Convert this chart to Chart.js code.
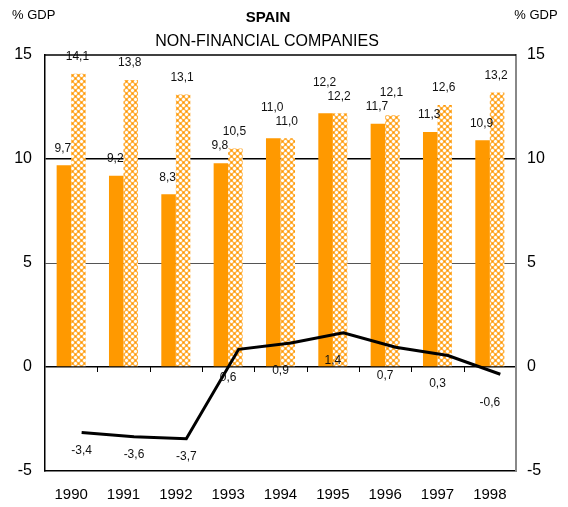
<!DOCTYPE html>
<html>
<head>
<meta charset="utf-8">
<script src="https://cdn.jsdelivr.net/npm/chart.js@4.4.3/dist/chart.umd.min.js"></script>
<style>
  html, body { margin: 0; padding: 0; background: #fff; }
  #wrap { width: 568px; height: 507px; }
</style>
</head>
<body>
<div id="wrap"><canvas id="chart" width="568" height="507"></canvas></div>
<script>
const years = ['1990', '1991', '1992', '1993', '1994', '1995', '1996', '1997', '1998'];
const solidValues = [9.7, 9.2, 8.3, 9.8, 11.0, 12.2, 11.7, 11.3, 10.9];
const hatchedValues = [14.1, 13.8, 13.1, 10.5, 11.0, 12.2, 12.1, 12.6, 13.2];
const lineValues = [-3.4, -3.6, -3.7, 0.6, 0.9, 1.4, 0.7, 0.3, -0.6];
const yTicks = [-5, 0, 5, 10, 15];

const FONT = "'Liberation Sans', Arial, Helvetica, sans-serif";
const ORANGE = '#FF9900';

function fmt(v) {
  return v.toFixed(1).replace('.', ',');
}

// small checker of white crosses on orange, like the Excel fill
function makePattern() {
  const c = document.createElement('canvas');
  c.width = 6;
  c.height = 6;
  const g = c.getContext('2d');
  g.fillStyle = '#FFB040';
  g.fillRect(0, 0, 6, 6);
  g.fillStyle = '#FF9900';
  g.fillRect(0, 3, 1, 1);
  g.fillRect(3, 0, 1, 1);
  g.fillStyle = '#FFFFFF';
  [[3, 3], [2, 3], [4, 3], [3, 2], [3, 4], [0, 0], [1, 0], [5, 0], [0, 1], [0, 5]].forEach(([x, y]) => g.fillRect(x, y, 1, 1));
  g.fillStyle = '#FFE0B0';
  [[2, 2], [4, 4], [2, 4], [4, 2], [1, 1], [5, 5], [1, 5], [5, 1]].forEach(([x, y]) => g.fillRect(x, y, 1, 1));
  return g.createPattern(c, 'repeat');
}

const lineShift = 0.2; // line sits a little right of the category centre

const framePlugin = {
  id: 'frame',
  beforeDatasetsDraw(chart) {
    const { ctx, chartArea, scales } = chart;
    const zeroY = scales.y.getPixelForValue(0);
    const step = chartArea.width / years.length;
    ctx.save();
    ctx.strokeStyle = '#000';
    ctx.lineWidth = 1;
    for (let i = 1; i < years.length; i++) {
      const x = Math.round(chartArea.left + step * i) + 0.5;
      ctx.beginPath();
      ctx.moveTo(x, zeroY);
      ctx.lineTo(x, zeroY + 5);
      ctx.stroke();
    }
    ctx.restore();
  },
  beforeDatasetDraw(chart, args) {
    if (args.index !== 2) return;
    const step = chart.chartArea.width / years.length;
    chart.ctx.save();
    chart.ctx.translate(step * lineShift, 0);
  },
  afterDatasetDraw(chart, args) {
    if (args.index !== 2) return;
    chart.ctx.restore();
  },
  afterDatasetsDraw(chart) {
    const { ctx, chartArea } = chart;
    const step = chartArea.width / years.length;
    ctx.save();
    ctx.fillStyle = '#111';
    ctx.font = '12px ' + FONT;
    ctx.textAlign = 'center';
    ctx.textBaseline = 'middle';
    const solid = chart.getDatasetMeta(0).data;
    const hatched = chart.getDatasetMeta(1).data;
    solid.forEach((s, i) => {
      const h = hatched[i];
      let ys = s.y - 17;
      let yh = h.y - 17;
      if (Math.abs(ys - yh) < 13) {
        if (hatchedValues[i] > solidValues[i]) yh = ys - 14;
        else ys = Math.min(ys, yh) - 14;
      }
      ctx.fillText(fmt(solidValues[i]), s.x - 1, ys);
      ctx.fillText(fmt(hatchedValues[i]), h.x - 1, yh);
    });
    chart.getDatasetMeta(2).data.forEach((p, i) => {
      const v = lineValues[i];
      const dx = v < -2 ? step * lineShift : 0;
      const dy = v < -2 ? 18 : 28;
      ctx.fillText(fmt(v), p.x + dx, p.y + dy);
    });
    ctx.restore();
  },
  afterDraw(chart) {
    const { ctx, chartArea } = chart;
    ctx.save();
    ctx.strokeStyle = '#000';
    ctx.lineWidth = 1.5;
    ctx.beginPath();
    ctx.moveTo(chartArea.left, chartArea.top);
    ctx.lineTo(chartArea.right, chartArea.top);
    ctx.stroke();

    ctx.fillStyle = '#000';
    ctx.textBaseline = 'middle';
    ctx.font = '13px ' + FONT;
    ctx.textAlign = 'left';
    ctx.fillText('% GDP', 12, 15);
    ctx.textAlign = 'center';
    ctx.fillText('% GDP', 536, 15);
    ctx.font = 'bold 15px ' + FONT;
    ctx.fillText('SPAIN', 268, 18);
    ctx.font = '16px ' + FONT;
    ctx.fillText('NON-FINANCIAL COMPANIES', 267, 42);
    ctx.restore();
  }
};

const yTickSetup = (scale) => {
  scale.ticks = yTicks.map((v) => ({ value: v }));
};

new Chart(document.getElementById('chart').getContext('2d'), {
  data: {
    labels: years,
    datasets: [
      {
        type: 'bar',
        data: solidValues,
        backgroundColor: ORANGE,
        borderWidth: 0,
        categoryPercentage: 0.555,
        barPercentage: 1.0,
        order: 1,
        yAxisID: 'y'
      },
      {
        type: 'bar',
        data: hatchedValues,
        backgroundColor: makePattern(),
        borderWidth: 0,
        categoryPercentage: 0.555,
        barPercentage: 1.0,
        order: 1,
        yAxisID: 'y'
      },
      {
        type: 'line',
        data: lineValues,
        borderColor: '#000',
        borderWidth: 3,
        pointRadius: 0,
        tension: 0,
        fill: false,
        clip: false,
        order: 0,
        yAxisID: 'yLine'
      }
    ]
  },
  options: {
    responsive: false,
    devicePixelRatio: 1,
    animation: false,
    layout: { padding: { top: 55, left: 0, right: 0, bottom: 0 } },
    plugins: {
      legend: { display: false },
      tooltip: { enabled: false },
      title: { display: false }
    },
    scales: {
      x: {
        grid: { display: false, drawTicks: false },
        border: { color: '#000', width: 1.5 },
        ticks: { color: '#000', font: { family: FONT, size: 15 }, padding: 15, maxRotation: 0 },
        afterFit: (s) => { s.height = 36; }
      },
      y: {
        position: 'left',
        min: -5,
        max: 15,
        afterBuildTicks: yTickSetup,
        ticks: { color: '#000', font: { family: FONT, size: 16 }, padding: 13 },
        grid: {
          drawTicks: false,
          color: (c) => {
            const v = c.tick && c.tick.value;
            if (v === 10 || v === 0) return '#000';
            if (v === 5) return '#555';
            return 'rgba(0,0,0,0)';
          },
          lineWidth: (c) => (c.tick && c.tick.value === 5 ? 1 : 1.5)
        },
        border: { color: '#000', width: 1.5 },
        afterFit: (s) => { s.width = 45; }
      },
      yRight: {
        position: 'right',
        min: -5,
        max: 15,
        afterBuildTicks: yTickSetup,
        ticks: { color: '#000', font: { family: FONT, size: 16 }, padding: 11 },
        grid: { display: false, drawTicks: false },
        border: { color: '#888', width: 2 },
        afterFit: (s) => { s.width = 52; }
      },
      yLine: {
        display: false,
        min: -5.25,
        max: 14.75
      }
    }
  },
  plugins: [framePlugin]
});
</script>
</body>
</html>
